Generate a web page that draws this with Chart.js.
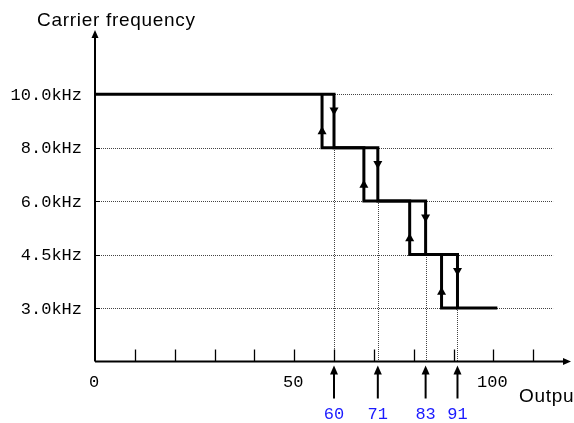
<!DOCTYPE html>
<html><head><meta charset="utf-8">
<script src="https://cdn.jsdelivr.net/npm/chart.js@4/dist/chart.umd.min.js"></script>
<style>html,body{margin:0;padding:0;background:#fff}canvas{display:block}</style>
</head><body>
<canvas id="c" width="574" height="423"></canvas>
<script>
// ---- data ----
const levelLabels = ['3.0kHz', '4.5kHz', '6.0kHz', '8.0kHz', '10.0kHz'];
const levelValues = [1, 2, 3, 4, 5];
const downThresholds = [60, 71, 83, 91];   // output (%) where carrier steps down
const upThresholds = [57, 67.5, 79, 87];   // output (%) where carrier steps back up
const startOutput = 0;
const endOutput = 101;
const xTickValues = [10, 20, 30, 40, 50, 60, 70, 80, 90, 100, 110];
const xLabelValues = [0, 50, 100];
const xLabelTexts = ['0', '50', '100'];
const thresholdLabels = ['60', '71', '83', '91'];
const yAxisTitle = 'Carrier frequency';
const xAxisTitle = 'Output';

// falling path (frequency decreasing as output rises)
const fallPts = [{x: startOutput, y: levelValues[4]}];
downThresholds.forEach((t, i) => {
  fallPts.push({x: t, y: levelValues[4 - i]});
  fallPts.push({x: t, y: levelValues[3 - i]});
});
fallPts.push({x: endOutput, y: levelValues[0]});
// rising path (frequency increasing as output falls)
const risePts = [{x: downThresholds[3], y: levelValues[0]}];
for (let i = 3; i >= 0; i--) {
  risePts.push({x: upThresholds[i], y: levelValues[3 - i]});
  risePts.push({x: upThresholds[i], y: levelValues[4 - i]});
}

const monoFont = '17px "Liberation Mono", "DejaVu Sans Mono", monospace';

const decor = {
  id: 'decor',
  beforeDatasetsDraw(chart) {
    const {ctx, scales: {x, y}} = chart;
    const x0 = x.getPixelForValue(0), y0 = y.getPixelForValue(0);
    ctx.save();
    // dotted horizontal grid
    ctx.strokeStyle = '#444';
    ctx.lineWidth = 1;
    ctx.setLineDash([1, 1]);
    levelValues.forEach(v => {
      const py = Math.round(y.getPixelForValue(v)) + 0.5;
      ctx.beginPath(); ctx.moveTo(x0 + 4, py); ctx.lineTo(x.getPixelForValue(115), py); ctx.stroke();
    });
    // dotted vertical lines at thresholds
    downThresholds.forEach((t, i) => {
      const px = Math.round(x.getPixelForValue(t)) + 0.5;
      const top = Math.round(y.getPixelForValue(levelValues[3 - i]));
      ctx.beginPath(); ctx.moveTo(px, top); ctx.lineTo(px, y0); ctx.stroke();
    });
    ctx.setLineDash([]);
    // small solid ticks on y axis
    ctx.strokeStyle = '#000';
    levelValues.forEach(v => {
      const py = Math.round(y.getPixelForValue(v)) + 0.5;
      ctx.beginPath(); ctx.moveTo(x0, py); ctx.lineTo(x0 + 5, py); ctx.stroke();
    });
    // axes
    ctx.lineWidth = 2;
    const xEnd = x.getPixelForValue(119.5), yTop = y.getPixelForValue(6.2);
    ctx.beginPath(); ctx.moveTo(x0, y0); ctx.lineTo(xEnd - 4, y0); ctx.stroke();
    ctx.beginPath(); ctx.moveTo(x0, y0); ctx.lineTo(x0, yTop + 4); ctx.stroke();
    ctx.fillStyle = '#000';
    ctx.beginPath(); ctx.moveTo(xEnd, y0); ctx.lineTo(xEnd - 8, y0 - 3.5); ctx.lineTo(xEnd - 8, y0 + 3.5); ctx.closePath(); ctx.fill();
    ctx.beginPath(); ctx.moveTo(x0, yTop); ctx.lineTo(x0 - 3.5, yTop + 8); ctx.lineTo(x0 + 3.5, yTop + 8); ctx.closePath(); ctx.fill();
    // x ticks
    ctx.lineWidth = 1.3;
    xTickValues.forEach(v => {
      const px = Math.round(x.getPixelForValue(v)) + 0.5;
      ctx.beginPath(); ctx.moveTo(px, y0); ctx.lineTo(px, y0 - 12); ctx.stroke();
    });
    // y tick labels
    ctx.font = monoFont;
    ctx.textAlign = 'right'; ctx.textBaseline = 'middle';
    levelValues.forEach((v, i) => ctx.fillText(levelLabels[i], 82, y.getPixelForValue(v) + 1));
    // x labels
    ctx.textAlign = 'center';
    xLabelValues.forEach((v, i) => ctx.fillText(xLabelTexts[i], x.getPixelForValue(v) - 1, y0 + 21));
    // threshold arrows and labels
    downThresholds.forEach((t, i) => {
      const px = x.getPixelForValue(t);
      ctx.lineWidth = 2;
      ctx.beginPath(); ctx.moveTo(px, y0 + 10); ctx.lineTo(px, y0 + 37); ctx.stroke();
      ctx.beginPath(); ctx.moveTo(px, y0 + 4); ctx.lineTo(px - 4, y0 + 13); ctx.lineTo(px + 4, y0 + 13); ctx.closePath(); ctx.fill();
      ctx.fillStyle = '#1a1aff';
      ctx.fillText(thresholdLabels[i], px, y0 + 53);
      ctx.fillStyle = '#000';
    });
    // titles
    ctx.font = '19px "Liberation Sans", Arial, sans-serif';
    ctx.letterSpacing = '0.7px';
    ctx.textAlign = 'left'; ctx.textBaseline = 'alphabetic';
    ctx.fillText(yAxisTitle, 37, 26);
    ctx.fillText(xAxisTitle, 519, 402);
    ctx.restore();
  },
  afterDatasetsDraw(chart) {
    const {ctx, scales: {x, y}} = chart;
    ctx.save();
    ctx.fillStyle = '#000';
    upThresholds.forEach((t, i) => {
      const px = x.getPixelForValue(t);
      const tip = y.getPixelForValue(levelValues[3 - i] + 0.40);
      ctx.beginPath(); ctx.moveTo(px, tip); ctx.lineTo(px - 4.5, tip + 8); ctx.lineTo(px + 4.5, tip + 8); ctx.closePath(); ctx.fill();
    });
    downThresholds.forEach((t, i) => {
      const px = x.getPixelForValue(t);
      const tip = y.getPixelForValue(levelValues[3 - i] + 0.60);
      ctx.beginPath(); ctx.moveTo(px, tip); ctx.lineTo(px - 4.5, tip - 8); ctx.lineTo(px + 4.5, tip - 8); ctx.closePath(); ctx.fill();
    });
    ctx.restore();
  }
};

new Chart(document.getElementById('c'), {
  type: 'scatter',
  data: {
    datasets: [
      {data: fallPts, showLine: true, borderColor: '#000', borderWidth: 3, pointRadius: 0, borderJoinStyle: 'miter', tension: 0, clip: false},
      {data: risePts, showLine: true, borderColor: '#000', borderWidth: 3, pointRadius: 0, borderJoinStyle: 'miter', tension: 0, clip: false}
    ]
  },
  options: {
    responsive: false,
    animation: false,
    devicePixelRatio: 1,
    layout: {padding: {left: 95, right: 1, top: 30, bottom: 61.5}},
    scales: {
      x: {type: 'linear', min: 0, max: 120, display: false},
      y: {type: 'linear', min: 0, max: 6.2, display: false}
    },
    plugins: {legend: {display: false}, tooltip: {enabled: false}}
  },
  plugins: [decor]
});
</script>
</body></html>
